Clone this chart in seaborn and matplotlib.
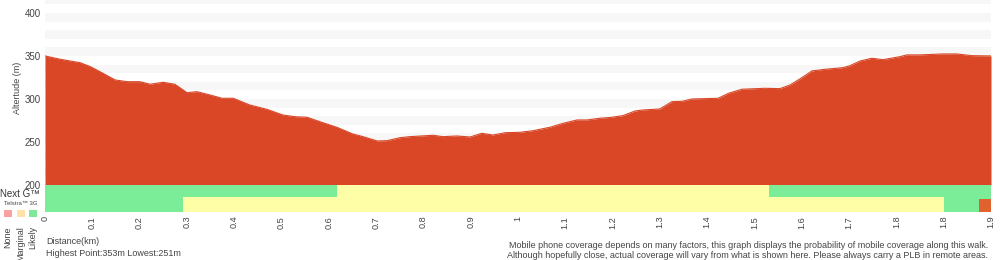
import matplotlib
matplotlib.use("Agg")
import matplotlib.pyplot as plt
import seaborn as sns
import pandas as pd
from matplotlib.patches import Rectangle

# ---------------- data ----------------
distance_km = [0.000, 0.031, 0.051, 0.072, 0.093, 0.119, 0.144, 0.169, 0.195, 0.216,
               0.243, 0.267, 0.292, 0.312, 0.339, 0.364, 0.387, 0.421, 0.456, 0.489,
               0.514, 0.539, 0.565, 0.600, 0.633, 0.654, 0.683, 0.703, 0.730, 0.750,
               0.798, 0.818, 0.847, 0.874, 0.898, 0.921, 0.946, 0.977, 1.003, 1.038,
               1.065, 1.094, 1.114, 1.141, 1.162, 1.188, 1.213, 1.229, 1.264, 1.289,
               1.310, 1.330, 1.384, 1.405, 1.433, 1.480, 1.511, 1.532, 1.552, 1.577,
               1.604, 1.641, 1.655, 1.676, 1.700, 1.723, 1.758, 1.772, 1.799, 1.846,
               1.875, 1.906, 1.945]
elevation_m = [350.0, 346.2, 344.2, 342.2, 337.6, 329.9, 322.1, 320.1, 320.1, 317.1,
               319.4, 317.1, 307.3, 308.5, 304.7, 300.8, 300.8, 293.0, 288.0, 281.4,
               279.4, 278.7, 273.6, 267.1, 259.3, 256.2, 251.2, 251.5, 255.0, 256.2,
               257.8, 256.2, 257.0, 255.8, 260.1, 258.1, 260.8, 261.3, 263.1, 267.1,
               271.7, 275.6, 275.6, 277.6, 278.5, 280.6, 286.0, 287.2, 288.4, 296.9,
               297.3, 300.0, 300.8, 306.6, 311.3, 312.4, 312.0, 316.3, 323.3, 332.6,
               334.5, 336.4, 338.7, 344.2, 347.3, 345.7, 349.2, 351.2, 351.2, 352.3,
               352.3, 350.3, 350.0]

total_km = 1.945
x_tick_labels = ["0", "0.1", "0.2", "0.3", "0.4", "0.5", "0.6", "0.7", "0.8", "0.9", "1",
                 "1.1", "1.2", "1.3", "1.4", "1.5", "1.6", "1.7", "1.8", "1.8", "1.9"]
y_ticks = [200, 250, 300, 350, 400]

nextg_start = [0.000, 0.600, 1.488]
nextg_end = [0.600, 1.488, 1.945]
nextg_level = ["Likely", "Marginal", "Likely"]

telstra_start = [0.000, 0.284, 1.848, 1.920]
telstra_end = [0.284, 1.848, 1.920, 1.945]
telstra_level = ["Likely", "Marginal", "Likely", "Unknown"]

legend_levels = ["None", "Marginal", "Likely"]

# ---------------- styles ----------------
sns.set_style("white")
plt.rcParams["font.family"] = ["Liberation Sans", "DejaVu Sans"]

FILL = "#D94727"
STRIPE = "#F7F7F7"
TXT = "#444444"
band_colors = {"Likely": "#7BEC97", "Marginal": "#FEFEA6", "None": "#F9A0A0", "Unknown": "#E0622E"}
legend_colors = {"None": "#F9A0A0", "Marginal": "#FEE2A8", "Likely": "#7DE895"}

W, H = 1000, 260
fig = plt.figure(figsize=(W / 100, H / 100), dpi=100)
ax = fig.add_axes([45 / W, 1 - 211.7 / H, (991 - 45) / W, 211.7 / H])

ymin, ymax = 169.0, 415.0
ax.set_xlim(0, total_km)
ax.set_ylim(ymin, ymax)

# stripes
for lo in range(200, 420, 20):
    ax.axhspan(lo + 10, lo + 20, color=STRIPE, lw=0, zorder=0)

df = pd.DataFrame({"distance": distance_km, "elevation": elevation_m})
ax.fill_between(df["distance"], 200, df["elevation"], color=FILL, lw=0, zorder=2)
sns.lineplot(data=df, x="distance", y="elevation", ax=ax, color=FILL, lw=0.8, zorder=3)

# coverage rows
row_nextg = (186.0, 200.0)
row_tel = (169.0, 186.0)
for s, e, lv in zip(nextg_start, nextg_end, nextg_level):
    ax.add_patch(Rectangle((s, row_nextg[0]), e - s, row_nextg[1] - row_nextg[0],
                           color=band_colors[lv], lw=0, zorder=2))
for s, e, lv in zip(telstra_start, telstra_end, telstra_level):
    top = row_tel[1] if lv != "Unknown" else 183.7
    ax.add_patch(Rectangle((s, row_tel[0]), e - s, top - row_tel[0],
                           color=band_colors[lv], lw=0, zorder=2))
    if lv == "Unknown":
        ax.add_patch(Rectangle((s, top), e - s, row_tel[1] - top,
                               color=band_colors["Likely"], lw=0, zorder=2))

for sp in ax.spines.values():
    sp.set_visible(False)

xt = [i * total_km / 20 for i in range(21)]
ax.set_xticks(xt)
ax.set_xticklabels(x_tick_labels, rotation=90, fontsize=6.6, color=TXT)
ax.set_yticks(y_ticks)
ax.set_yticklabels([str(v) for v in y_ticks], fontsize=7, color=TXT)
ax.tick_params(axis="both", length=0, pad=3)
ax.set_xlabel("")
ax.set_ylabel("")

def ftext(x, y, s, **kw):
    fig.text(x / W, 1 - y / H, s, **kw)

ftext(17, 88, "Altertude (m)", rotation=90, ha="center", va="center", fontsize=6.5, color=TXT)
ftext(0, 194, "Next G\u2122", ha="left", va="center", fontsize=7, color="#333333")
ftext(4, 203.5, "Telstra\u2122 3G", ha="left", va="center", fontsize=4.3, color=TXT)

for i, lv in enumerate(legend_levels):
    x0 = 4 + i * 12.5
    fig.patches.append(Rectangle((x0 / W, 1 - 217 / H), 8 / W, 7.5 / H,
                                 transform=fig.transFigure, color=legend_colors[lv], lw=0))
    ftext(x0 + 4, 226, lv, rotation=90, ha="center", va="top", fontsize=6.5, color=TXT)

ftext(46, 242, "Distance(km)", ha="left", va="center", fontsize=6.5, color=TXT)
ftext(46, 253, "Highest Point:353m Lowest:251m", ha="left", va="center", fontsize=6.5, color=TXT)
ftext(988, 245, "Mobile phone coverage depends on many factors, this graph displays the probability of mobile coverage along this walk.",
      ha="right", va="center", fontsize=6.5, color=TXT)
ftext(988, 256, "Although hopefully close, actual coverage will vary from what is shown here. Please always carry a PLB in remote areas.",
      ha="right", va="center", fontsize=6.5, color=TXT)

fig.savefig("out.png", dpi=100, facecolor="white")
